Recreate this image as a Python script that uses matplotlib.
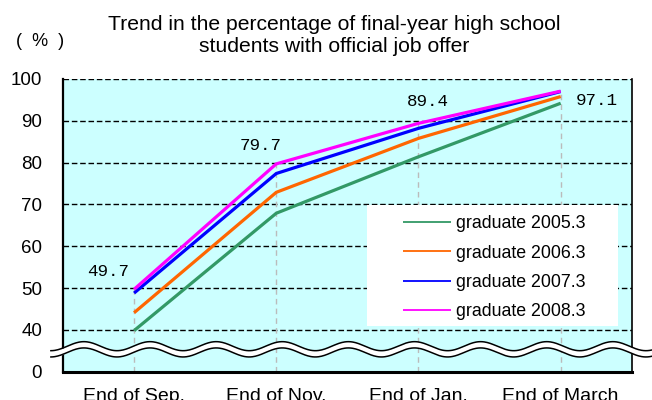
import matplotlib
matplotlib.use("Agg")
import matplotlib.pyplot as plt
import numpy as np
from matplotlib.patches import Rectangle

# ---- data
months = ["End of Sep.", "End of Nov.", "End of Jan.", "End of March"]
series_names = ["graduate 2005.3", "graduate 2006.3", "graduate 2007.3", "graduate 2008.3"]
grad_2005 = [39.3, 67.9, 81.4, 94.2]
grad_2006 = [44.1, 72.9, 85.8, 95.8]
grad_2007 = [48.8, 77.4, 88.2, 97.0]
grad_2008 = [49.7, 79.7, 89.4, 97.1]
label_values = [49.7, 79.7, 89.4, 97.1]

ytick_vals = [0, 40, 50, 60, 70, 80, 90, 100]

# axis break: 0 sits one grid step below 40
def to_axis(v):
    v = np.asarray(v, dtype=float)
    return np.where(v >= 40, v, 30 + v * 10 / 40)

colors = ["#339966", "#ff6600", "#0000ff", "#ff00ff"]
font = "Liberation Sans"
plt.rcParams["font.family"] = [font, "DejaVu Sans"]

fig = plt.figure(figsize=(6.52, 4.0), dpi=100)
ax = fig.add_axes([0.0966, 0.0708, 0.8724, 0.7317])
ax.set_facecolor("#ccffff")

x = np.arange(len(months))
ax.set_xlim(-0.5, 3.5)
ax.set_ylim(30, 100)

# grid lines
for v in ytick_vals[1:]:
    ax.axhline(to_axis(v), color="black", lw=1.0, dashes=(4, 2), zorder=1)

# drop lines from top series
ax.vlines(x, 30, to_axis(grad_2008), colors="#bbbbbb", lw=1.0,
          linestyles=(0, (4, 3)), zorder=1.5)

# legend box
ax.add_patch(Rectangle((0.534, 0.156), 0.441, 0.414, transform=ax.transAxes,
                       facecolor="white", edgecolor="none", zorder=1.8))

all_series = [grad_2005, grad_2006, grad_2007, grad_2008]
for vals, c, name in zip(all_series, colors, series_names):
    ax.plot(x, to_axis(vals), color=c, lw=2.3, zorder=3, label=name,
            solid_capstyle="butt")

# value labels
offsets = [(-19, 13), (-11, 13), (7, 16), (26, -7)]
for xi, v, off in zip(x, label_values, offsets):
    ax.annotate(f"{v:.1f}", (xi, to_axis(v)), xytext=off, textcoords="offset points",
                ha="center", va="center", fontsize=12.6, family="Liberation Mono",
                zorder=4)

# legend
handles, labels = ax.get_legend_handles_labels()
leg = ax.legend(handles, labels, loc="upper left", bbox_to_anchor=(0.597, 0.535),
                frameon=False, fontsize=12.8, handlelength=2.7, handletextpad=0.3,
                labelspacing=0.7, borderpad=0, borderaxespad=0)
for ln in leg.get_lines():
    ln.set_linewidth(1.3)

# axis break wave
wx = np.linspace(-0.585, 3.64, 600)
phase = np.cos(2 * np.pi * (wx - 1.042) / 0.465) * 1.08
upper = 36.1 + phase
lower = 34.6 + phase
ax.fill_between(wx, lower, upper, color="white", zorder=6, clip_on=False, lw=0)
ax.plot(wx, upper, color="black", lw=1.1, zorder=7, clip_on=False)
ax.plot(wx, lower, color="black", lw=1.1, zorder=7, clip_on=False)

# ticks
ax.set_yticks(to_axis(ytick_vals))
ax.set_yticklabels([str(v) for v in ytick_vals], fontsize=13.5)
ax.set_xticks(x)
ax.set_xticklabels(months, fontsize=14)
ax.tick_params(axis="y", length=0, pad=15)
ax.tick_params(axis="x", length=0, pad=12)

ax.spines["top"].set_visible(False)
ax.spines["left"].set_linewidth(1.6)
ax.spines["bottom"].set_linewidth(2.2)
ax.spines["right"].set_linewidth(1.2)

fig.text(0.512, 0.912, "Trend in the percentage of final-year high school\nstudents with official job offer",
         ha="center", va="center", fontsize=15.2, linespacing=1.22)
fig.text(0.061, 0.895, "(  %  )", ha="center", va="center", fontsize=13)

fig.savefig("out.png", dpi=100)
